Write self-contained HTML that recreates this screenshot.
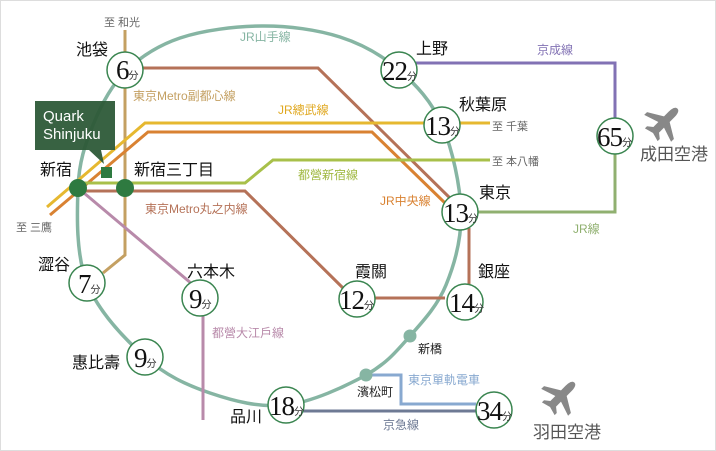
<!DOCTYPE html>
<html><head><meta charset="utf-8"><style>
html,body{margin:0;padding:0;background:#fff}
svg{display:block}
text{font-family:"Liberation Sans","Noto Sans CJK JP",sans-serif}
text.n{font-family:"Liberation Serif","Noto Serif CJK SC",serif;font-size:27px;fill:#111;letter-spacing:-1px}
tspan.f{font-family:"Liberation Sans","Noto Sans CJK JP",sans-serif;font-size:10px;fill:#333;letter-spacing:0}
.st{font-size:16px;fill:#111}
.g{font-size:11px;fill:#666}
</style></head><body>
<svg width="716" height="451" viewBox="0 0 716 451" xmlns="http://www.w3.org/2000/svg">
<rect x="0.5" y="0.5" width="715" height="450" fill="#fff" stroke="#ddd"/>
<path fill="none" stroke="#86b5a3" stroke-width="3.5" d="M78,188 C79,161.7 85.2,144.3 93,125 C100.8,105.7 110.5,86.5 125,72 C139.5,57.5 157.2,45.7 180,38 C202.8,30.3 235.3,26.2 262,26 C288.7,25.8 317.2,29.7 340,37 C362.8,44.3 382,55.3 399,70 C416,84.7 431.7,101.3 442,125 C452.3,148.7 460.3,185.3 461,212 C461.7,238.7 454.5,264.3 446,285 C437.5,305.7 423.3,321 410,336 C396.7,351 386.7,363.5 366,375 C345.3,386.5 312,402 286,405 C260,408 233.5,401 210,393 C186.5,385 165.5,375.3 145,357 C124.5,338.7 98.2,311.2 87,283 C75.8,254.8 77,214.3 78,188Z"/>
<g fill="none" stroke-width="3" stroke-linejoin="miter">
<polyline stroke="#c4a062" points="125,30 125,255 103,273"/>
<polyline stroke="#b57258" points="140,68 318,68 455,203"/>
<polyline stroke="#b57258" points="78,191 245,191 345,290"/>
<polyline stroke="#b57258" points="370,298 445,298"/>
<polyline stroke="#b57258" points="469,228 469,285"/>
<polyline stroke="#e6b830" points="47,207 145,123 490,123"/>
<polyline stroke="#d98232" points="50,215 148,132 372,132 445,203"/>
<polyline stroke="#a8c04a" points="82,183 245,183 273,160 490,160"/>
<polyline stroke="#b88aaa" points="84,193 192,284"/>
<polyline stroke="#b88aaa" points="203,315 203,420"/>
<polyline stroke="#8272b4" points="415,63 615,63 615,118"/>
<polyline stroke="#90b070" points="476,212 615,212 615,152"/>
<polyline stroke="#88a9d0" points="366,375 401,375 401,404 476,404"/>
<polyline stroke="#6e7a94" points="302,411 476,411"/>
</g>
<g fill="#fff" stroke="#3a8550" stroke-width="1.5">
<circle cx="125" cy="70" r="18"/><circle cx="399" cy="70" r="18"/>
<circle cx="442" cy="125" r="18"/><circle cx="460" cy="212" r="18"/>
<circle cx="357" cy="299" r="18"/><circle cx="465" cy="302" r="18"/>
<circle cx="200" cy="298" r="18"/><circle cx="87" cy="283" r="18"/>
<circle cx="145" cy="357" r="18"/><circle cx="286" cy="405" r="18"/>
<circle cx="494" cy="410" r="18"/><circle cx="615" cy="136" r="18"/>
</g>
<g fill="#2e7a40"><circle cx="78" cy="188" r="9"/><circle cx="125" cy="188" r="9"/><rect x="101" y="167" width="11" height="11"/></g>
<g fill="#86b5a3"><circle cx="410" cy="336" r="6.5"/><circle cx="366" cy="375" r="6.5"/></g>
<path d="M35,101 H115 V150 H101 L104,164 L89,150 H35Z" fill="#2d5a38" fill-opacity="0.95"/>
<text x="43" y="121" font-size="15" fill="#fff">Quark</text>
<text x="43" y="139" font-size="15" fill="#fff">Shinjuku</text>
<text class="n" x="116" y="79">6<tspan class="f">分</tspan></text>
<text class="n" x="382" y="80">22<tspan class="f">分</tspan></text>
<text class="n" x="425" y="135">13<tspan class="f">分</tspan></text>
<text class="n" x="443" y="222">13<tspan class="f">分</tspan></text>
<text class="n" x="339" y="309">12<tspan class="f">分</tspan></text>
<text class="n" x="449" y="312">14<tspan class="f">分</tspan></text>
<text class="n" x="189" y="308">9<tspan class="f">分</tspan></text>
<text class="n" x="78" y="293">7<tspan class="f">分</tspan></text>
<text class="n" x="134" y="367">9<tspan class="f">分</tspan></text>
<text class="n" x="269" y="415">18<tspan class="f">分</tspan></text>
<text class="n" x="477" y="420">34<tspan class="f">分</tspan></text>
<text class="n" x="597" y="146">65<tspan class="f">分</tspan></text>
<g class="st">
<text x="76" y="55">池袋</text><text x="416" y="54">上野</text>
<text x="459" y="110">秋葉原</text><text x="479" y="198">東京</text>
<text x="355" y="277">霞關</text><text x="478" y="277">銀座</text>
<text x="187" y="277">六本木</text><text x="38" y="270">澀谷</text>
<text x="72" y="368">惠比壽</text><text x="230" y="422">品川</text>
<text x="40" y="175">新宿</text><text x="134" y="175">新宿三丁目</text>
<text x="640" y="160" fill="#555" font-size="17">成田空港</text><text x="533" y="438" fill="#555" font-size="17">羽田空港</text>
</g>
<g font-size="12">
<text x="104" y="26" class="g">至 和光</text>
<text x="16" y="231" class="g">至 三鷹</text>
<text x="492" y="130" class="g">至 千葉</text>
<text x="492" y="165" class="g">至 本八幡</text>
<text x="240" y="41" fill="#86b5a3">JR山手線</text>
<text x="133" y="100" fill="#c4a062">東京Metro副都心線</text>
<text x="278" y="114" fill="#e0a820">JR總武線</text>
<text x="298" y="179" fill="#a0b840">都營新宿線</text>
<text x="380" y="205" fill="#d98232">JR中央線</text>
<text x="145" y="213" fill="#b57258">東京Metro丸之内線</text>
<text x="212" y="337" fill="#b88aaa">都營大江戶線</text>
<text x="537" y="54" fill="#8272b4">京成線</text>
<text x="573" y="233" fill="#90b070">JR線</text>
<text x="408" y="384" fill="#88a9d0">東京單軌電車</text>
<text x="383" y="429" fill="#6e7a94">京急線</text>
<text x="418" y="353" fill="#222">新橋</text>
<text x="357" y="396" fill="#222">濱松町</text>
</g>
<g fill="#888">
<path transform="translate(664,122) rotate(45)" d="M0,-19 C3,-19 4,-15 4,-11 L4,-4 L19,5 L19,9 L4,4 L4,11 L9,15 L9,18 L0,15.5 L-9,18 L-9,15 L-4,11 L-4,4 L-19,9 L-19,5 L-4,-4 L-4,-11 C-4,-15 -3,-19 0,-19Z"/>
<path transform="translate(561,396) rotate(45)" d="M0,-19 C3,-19 4,-15 4,-11 L4,-4 L19,5 L19,9 L4,4 L4,11 L9,15 L9,18 L0,15.5 L-9,18 L-9,15 L-4,11 L-4,4 L-19,9 L-19,5 L-4,-4 L-4,-11 C-4,-15 -3,-19 0,-19Z"/>
</g>
</svg>
</body></html>
